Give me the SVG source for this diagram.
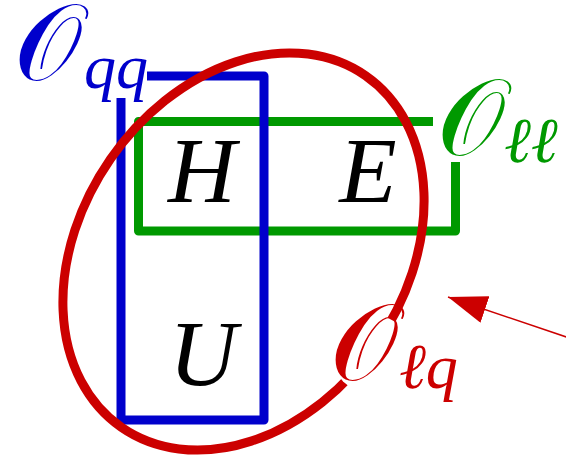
<svg xmlns="http://www.w3.org/2000/svg" width="566" height="456" viewBox="0 0 566 456">
  <style>
    .box { fill: none; stroke-width: 9; stroke-linejoin: round; }
    .var { font-family: "Liberation Serif", "DejaVu Serif", serif; font-style: italic; font-size: 94px; fill: #000; }
    .cal { font-family: "DejaVu Serif", "DejaVu Sans", "Liberation Serif", serif; font-size: 108px; }
    .sub { font-family: "Liberation Serif", "DejaVu Serif", serif; font-style: italic; font-weight: normal; font-size: 64px; }
  </style>
  <defs>
    <marker id="arrowhead" viewBox="0 0 40 28" refX="39" refY="14" markerWidth="40" markerHeight="28" markerUnits="userSpaceOnUse" orient="auto">
      <path d="M0,0 L39,14 L0,28 Z" fill="#cc0000"/>
    </marker>
  </defs>

  <g id="O_ll">
    <path class="box" d="M455.5,162 V231 H138.5 V121.5 H433" stroke="#009900"/>
  </g>
  <g id="O_qq">
    <path class="box" d="M147,76 H264 V420 H121 V98" stroke="#0000cc"/>
  </g>
  <g id="O_lq">
    <ellipse cx="243.5" cy="251.5" rx="214" ry="162" transform="rotate(-55.2 243.5 251.5)" fill="none" stroke="#cc0000" stroke-width="9"/>
    <circle cx="371" cy="353.5" r="39.5" fill="#fff"/>
  </g>

  <g id="H"><text class="var" x="202" y="202" text-anchor="middle">H</text></g>
  <g id="E"><text class="var" x="368" y="202" text-anchor="middle">E</text></g>
  <g id="U"><text class="var" x="203" y="385" text-anchor="middle">U</text></g>

  <g id="label-qq" fill="#0000cc">
    <text class="cal" x="14" y="80">𝒪</text>
    <text class="sub" x="84" y="88">qq</text>
  </g>
  <g id="label-ll" fill="#009900">
    <text class="cal" x="437" y="155">𝒪</text>
    <text class="sub" x="504" y="162">ℓℓ</text>
  </g>
  <g id="label-lq" fill="#cc0000">
    <text class="cal" x="330" y="380">𝒪</text>
    <text class="sub" x="399" y="388">ℓq</text>
  </g>

  <g id="connectors">
    <line x1="590" y1="345" x2="448" y2="297" stroke="#cc0000" stroke-width="1.5" marker-end="url(#arrowhead)"/>
  </g>
</svg>
